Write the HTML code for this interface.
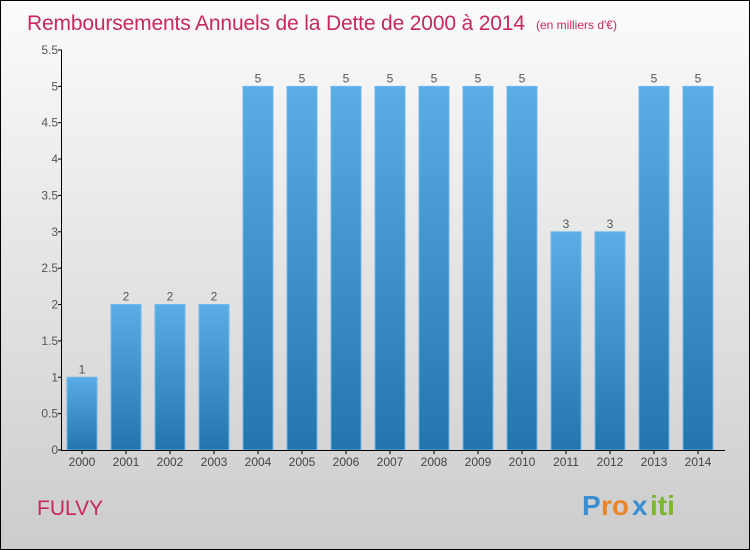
<!DOCTYPE html>
<html><head><meta charset="utf-8"><style>
body{margin:0;width:750px;height:550px;overflow:hidden}
svg{display:block;font-family:"Liberation Sans",sans-serif}
</style></head><body>
<svg id="c" width="750" height="550">
<defs>
<linearGradient id="bg" x1="0" y1="0" x2="0" y2="1"><stop offset="0" stop-color="#fbfbfb"/><stop offset="1" stop-color="#cccccc"/></linearGradient>
<linearGradient id="bar" x1="0" y1="0" x2="0" y2="1"><stop offset="0" stop-color="#5aade6"/><stop offset="1" stop-color="#2474b0"/></linearGradient>
</defs>
<rect x="0.5" y="0.5" width="749" height="549" fill="url(#bg)" stroke="#000"/>
<text x="27" y="30" font-size="21" fill="#c8285a" textLength="498">Remboursements Annuels de la Dette de 2000 à 2014</text>
<text x="536" y="29" font-size="12" fill="#c8285a">(en milliers d'€)</text>
<text x="37" y="515" font-size="21" fill="#c8285a">FULVY</text>
<g font-size="28" font-weight="bold">
<text x="582" y="515" fill="#3a8fd0">P</text><text x="601" y="515" fill="#e8862a">ro</text><text x="632" y="515" fill="#3a8fd0">x</text><text x="650" y="515" fill="#7ab829">iti</text>
</g>
<g id="plot"></g>
</svg>
<script>
const categories=["2000","2001","2002","2003","2004","2005","2006","2007","2008","2009","2010","2011","2012","2013","2014"];
const values=[1,2,2,2,5,5,5,5,5,5,5,3,3,5,5];
const yTicks=[0,0.5,1,1.5,2,2.5,3,3.5,4,4.5,5,5.5];
const yTickLabels=["0","0.5","1","1.5","2","2.5","3","3.5","4","4.5","5","5.5"];
const NS="http://www.w3.org/2000/svg";
const g=document.getElementById('plot');
const y=v=>450-v*(400/5.5);
const x=i=>82+i*44;
function mk(t,a){const e=document.createElementNS(NS,t);for(const k in a)e.setAttribute(k,a[k]);g.appendChild(e);return e;}
categories.forEach((c,i)=>{
  const r=mk('rect',{x:x(i)-15,y:y(values[i]),width:30,height:450-y(values[i]),fill:'url(#bar)',stroke:'#6cb8ee','stroke-width':1});
  
  
  const t=mk('text',{x:x(i),y:y(values[i])-4,'font-size':12,fill:'#555','text-anchor':'middle'});t.textContent=values[i];
  
  
  const l=mk('text',{x:x(i),y:466,'font-size':12,fill:'#444','text-anchor':'middle'});l.textContent=c;
  
  
  const tk=mk('line',{x1:x(i),x2:x(i),y1:450,y2:454,stroke:'#000'});
  
  
});
yTicks.forEach((v,i)=>{
  const tk=mk('line',{x1:58,x2:62,y1:y(v),y2:y(v),stroke:'#000'});
  
  
  const t=mk('text',{x:58,y:y(v)+4,'font-size':12,fill:'#555','text-anchor':'end'});t.textContent=yTickLabels[i];
  
  
});
const ya=mk('line',{x1:61.5,x2:61.5,y1:y(5.5),y2:450,stroke:'#000'});


const xa=mk('line',{x1:61,x2:725,y1:450.5,y2:450.5,stroke:'#000'});


</script>
</body></html>
